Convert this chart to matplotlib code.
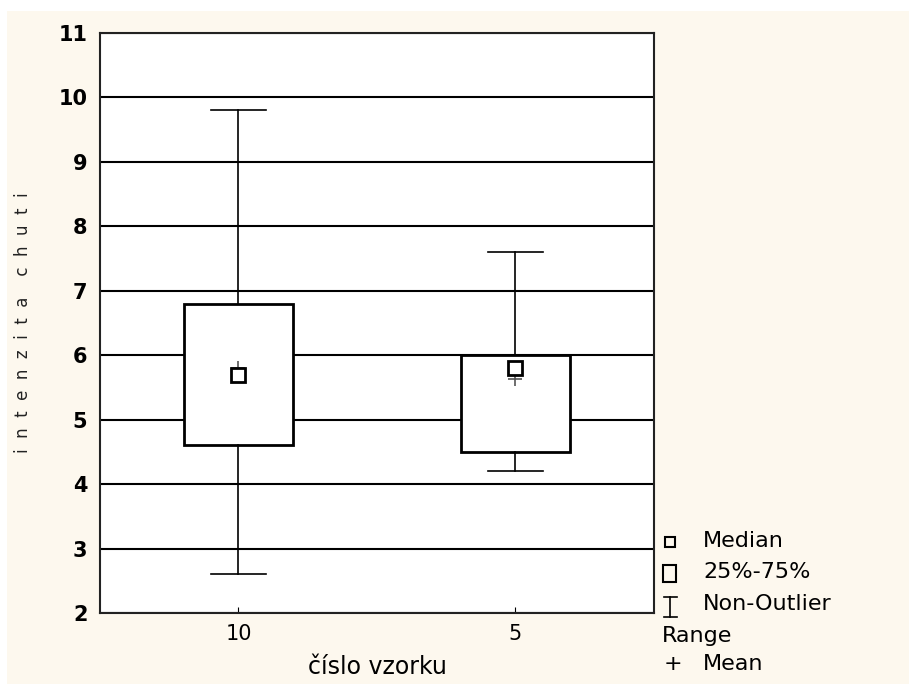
import matplotlib
matplotlib.use("Agg")
import matplotlib.pyplot as plt
from matplotlib.lines import Line2D
from matplotlib.patches import Rectangle

# Data
categories = ["10", "5"]
medians = [5.7, 5.8]
means = [5.8, 5.63]
q1 = [4.6, 4.5]
q3 = [6.8, 6.0]
whisk_lo = [2.6, 4.2]
whisk_hi = [9.8, 7.6]
yticks = [2, 3, 4, 5, 6, 7, 8, 9, 10, 11]
positions = [1, 3]

W, H = 909, 684
fig = plt.figure(figsize=(W / 100, H / 100), dpi=100)
fig.patch.set_facecolor("white")
cream = "#FDF8EE"
fig.add_artist(Rectangle((7 / W, 0), 1, 1 - 11 / H, transform=fig.transFigure,
                         facecolor=cream, edgecolor="none", zorder=-10))

ax = fig.add_axes([100 / W, 1 - 613 / H, (654 - 100) / W, (613 - 33) / H])
ax.set_facecolor("white")

stats = []
for i in range(len(categories)):
    stats.append(dict(med=medians[i], q1=q1[i], q3=q3[i],
                      whislo=whisk_lo[i], whishi=whisk_hi[i], fliers=[]))
ax.bxp(stats, positions=positions, widths=0.79, patch_artist=True,
       showfliers=False,
       boxprops=dict(facecolor="white", edgecolor="black", linewidth=2),
       whiskerprops=dict(color="black", linewidth=1.2),
       capprops=dict(color="black", linewidth=1.2),
       medianprops=dict(linewidth=0),
       capwidths=0.4, zorder=3)

ax.plot(positions, means, linestyle="none", marker="+", markersize=10,
        markeredgewidth=1.2, color="#555555", zorder=4)
ax.plot(positions, medians, linestyle="none", marker="s", markersize=10,
        markerfacecolor="white", markeredgecolor="black", markeredgewidth=2, zorder=5)

ax.set_xlim(0, 4)
ax.set_ylim(2, 11)
ax.set_yticks(yticks)
ax.set_yticklabels([str(v) for v in yticks], fontsize=15, fontweight="bold",
                   family="DejaVu Sans")
ax.set_xticks(positions)
ax.set_xticklabels(categories, fontsize=15, family="DejaVu Sans")
ax.tick_params(axis="y", length=0, pad=9)
ax.tick_params(axis="x", direction="in", length=4, pad=8)
ax.grid(axis="y", color="black", linewidth=1.5, zorder=0)
ax.set_axisbelow(True)
for s in ax.spines.values():
    s.set_linewidth(1.5)
    s.set_color("#222222")

ax.set_xlabel("číslo vzorku", fontsize=17, family="DejaVu Sans", labelpad=8)
ax.set_ylabel("i  n  t  e  n  z  i  t  a    c  h  u  t  i", fontsize=12,
              family="DejaVu Sans", labelpad=19, color="#222222")

# Legend (manual)
def fx(x):
    return x / W

def fy(y):
    return 1 - y / H

tf = fig.transFigure
lfont = dict(fontsize=16, family="DejaVu Sans", va="center", ha="left")
# Median
fig.add_artist(Line2D([fx(670)], [fy(542)], transform=tf, marker="s", markersize=7,
                      markerfacecolor="none", markeredgecolor="black", markeredgewidth=1.5))
fig.text(fx(703), fy(541), "Median", **lfont)
# 25%-75%
fig.add_artist(Rectangle((fx(663), fy(582)), 13 / W, 17 / H, transform=tf,
                         facecolor="none", edgecolor="black", linewidth=1.5))
fig.text(fx(703), fy(572), "25%-75%", **lfont)
# Non-Outlier Range
fig.add_artist(Line2D([fx(670), fx(670)], [fy(597), fy(617)], transform=tf, color="black", lw=1.2))
fig.add_artist(Line2D([fx(664), fx(677)], [fy(597), fy(597)], transform=tf, color="black", lw=1.2))
fig.add_artist(Line2D([fx(664), fx(677)], [fy(617), fy(617)], transform=tf, color="black", lw=1.2))
fig.text(fx(703), fy(604), "Non-Outlier", **lfont)
fig.text(fx(662), fy(636), "Range", **lfont)
# Mean
fig.text(fx(664), fy(664), "+", **lfont)
fig.text(fx(703), fy(664), "Mean", **lfont)

fig.savefig("out.png", dpi=100, facecolor=fig.get_facecolor())
